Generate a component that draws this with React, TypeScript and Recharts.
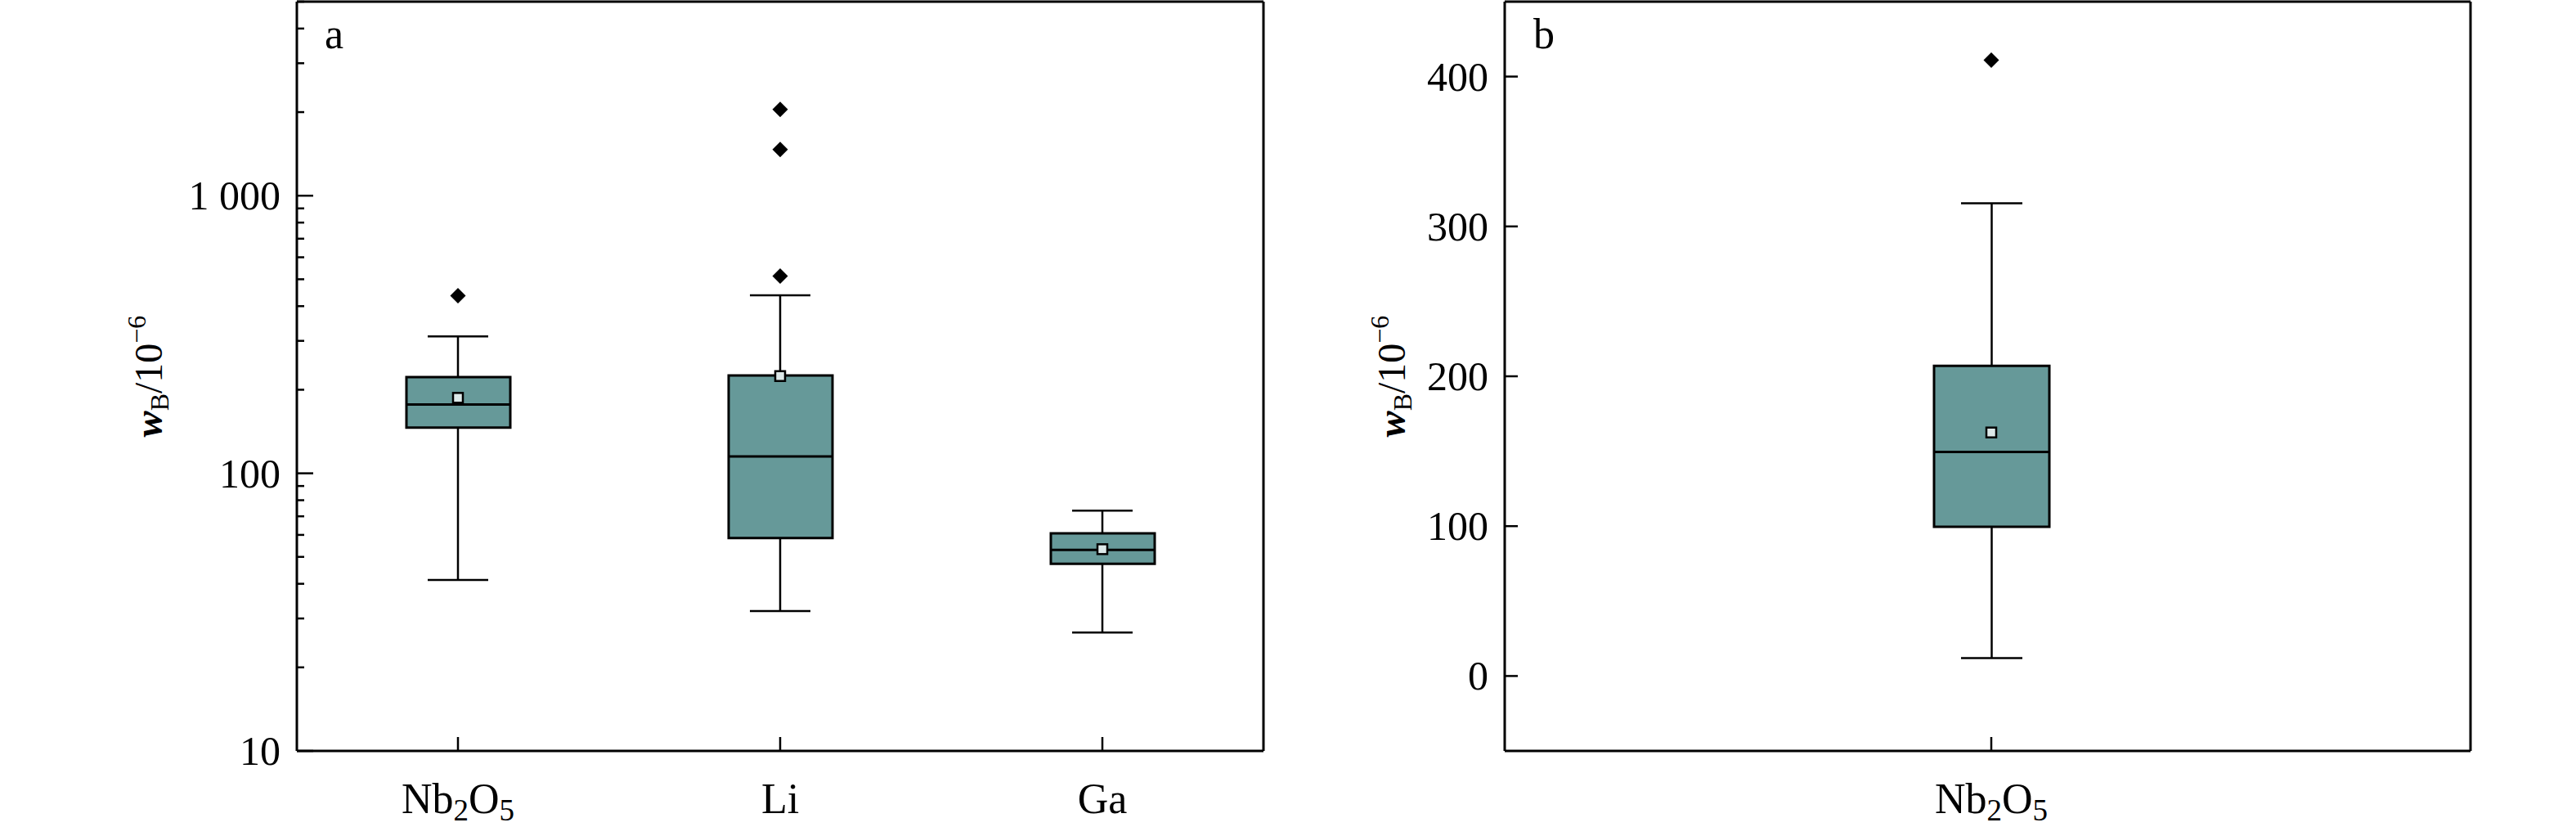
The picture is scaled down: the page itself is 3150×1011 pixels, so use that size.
import React from "react";
import { Bar, ComposedChart, Scatter, XAxis, YAxis } from "recharts";

const FONT = '"Liberation Serif", "Times New Roman", Times, serif';
const BOX_FILL = "#669999";

// panel a (log scale)
const categoriesA = ["Nb2O5", "Li", "Ga"];
const minA = [41.3, 31.9, 26.7];
const q1A = [146, 58.5, 47.2];
const medianA = [177, 115, 53];
const q3A = [222, 225, 60.8];
const maxA = [311, 438, 73.4];
const meanA = [187, 224, 53.3];
const outliersA = [[436], [513, 1468, 2045], []];
const majorTicksA = [10, 100, 1000];
const minorTicksA = [
  20, 30, 40, 50, 60, 70, 80, 90, 200, 300, 400, 500, 600, 700, 800, 900, 2000,
  3000, 4000, 5000,
];

// panel b (linear scale)
const categoriesB = ["Nb2O5"];
const minB = [11.9];
const q1B = [99.6];
const medianB = [149.5];
const q3B = [207];
const maxB = [315.4];
const meanB = [162.5];
const outliersB = [[411]];
const ticksB = [0, 100, 200, 300, 400];

type Row = {
  name: string;
  whisker: [number, number];
  box: [number, number];
  median: number;
  mean: number;
  out1: number | null;
  out2: number | null;
  out3: number | null;
};

function buildRows(
  cats: string[],
  mins: number[],
  q1s: number[],
  meds: number[],
  q3s: number[],
  maxs: number[],
  means: number[],
  outs: number[][]
): Row[] {
  return cats.map((name, i) => ({
    name,
    whisker: [mins[i], maxs[i]],
    box: [q1s[i], q3s[i]],
    median: meds[i],
    mean: means[i],
    out1: outs[i][0] ?? null,
    out2: outs[i][1] ?? null,
    out3: outs[i][2] ?? null,
  }));
}

const rowsA = buildRows(categoriesA, minA, q1A, medianA, q3A, maxA, meanA, outliersA);
const rowsB = buildRows(categoriesB, minB, q1B, medianB, q3B, maxB, meanB, outliersB);

const frameLine = { stroke: "#000", strokeWidth: 3 };
const serif = { fontFamily: FONT };

const formatTick = (v: number) => String(v).replace(/\B(?=(\d{3})+(?!\d))/g, " ");

function WhiskerShape(props: any) {
  const { x, y, width, height } = props;
  const top = Math.min(y, y + height);
  const bottom = Math.max(y, y + height);
  const cx = x + width / 2;
  return (
    <g stroke="#000" strokeWidth={2.5}>
      <line x1={cx} x2={cx} y1={top} y2={bottom} />
      <line x1={x} x2={x + width} y1={top} y2={top} />
      <line x1={x} x2={x + width} y1={bottom} y2={bottom} />
    </g>
  );
}

const medianShape = (half: number) => (props: any) => {
  const { cx, cy } = props;
  if (!Number.isFinite(cx) || !Number.isFinite(cy)) return <g />;
  return <line x1={cx - half} x2={cx + half} y1={cy} y2={cy} stroke="#000" strokeWidth={3} />;
};

function MeanShape(props: any) {
  const { cx, cy } = props;
  if (!Number.isFinite(cx) || !Number.isFinite(cy)) return <g />;
  return <rect x={cx - 6} y={cy - 6} width={12} height={12} fill="#dde9e9" stroke="#000" strokeWidth={2.5} />;
}

function OutlierShape(props: any) {
  const { cx, cy } = props;
  if (!Number.isFinite(cx) || !Number.isFinite(cy)) return <g />;
  const r = 9.5;
  return <polygon points={`${cx},${cy - r} ${cx + r},${cy} ${cx},${cy + r} ${cx - r},${cy}`} fill="#000" />;
}

function CategoryTick(props: any) {
  const { x, y, payload } = props;
  const parts = String(payload.value).split(/(\d+)/).filter(Boolean);
  let shift = 0;
  return (
    <g>
      <line x1={x} x2={x} y1={y} y2={y - 17} stroke="#000" strokeWidth={2.5} />
      <text x={x} y={y + 76} textAnchor="middle" style={serif} fontSize={52} fill="#000">
        {parts.map((p, i) => {
          const sub = /^\d+$/.test(p);
          const dy = (sub ? 9 : 0) - shift;
          shift = sub ? 9 : 0;
          return (
            <tspan key={i} dy={dy} fontSize={sub ? 37 : 52}>
              {p}
            </tspan>
          );
        })}
      </text>
    </g>
  );
}

const valueTick = (majors: number[], majorLen: number, minorLen: number) => (props: any) => {
  const { x, y, payload } = props;
  const v = payload.value as number;
  const major = majors.includes(v);
  return (
    <g>
      <line x1={x} x2={x + (major ? majorLen : minorLen)} y1={y} y2={y} stroke="#000" strokeWidth={2.5} />
      {major && (
        <text x={x - 20} y={y} dy={17} textAnchor="end" style={serif} fontSize={50} fill="#000">
          {formatTick(v)}
        </text>
      )}
    </g>
  );
};

function YTitle({ px, py }: { px: number; py: number }) {
  return (
    <text
      transform={`translate(${px},${py}) rotate(-90)`}
      textAnchor="middle"
      style={serif}
      fontSize={48}
      fill="#000"
    >
      <tspan fontWeight="bold" fontStyle="italic">w</tspan>
      <tspan fontSize={32} dy={8}>B</tspan>
      <tspan dy={-8}>/10</tspan>
      <tspan fontSize={32} dy={-20}>−6</tspan>
    </text>
  );
}

function PanelLetter({ px, py, letter }: { px: number; py: number; letter: string }) {
  return (
    <text x={px} y={py} style={serif} fontSize={52} fill="#000">
      {letter}
    </text>
  );
}

type PanelProps = {
  rows: Row[];
  width: number;
  right: number;
  yWidth: number;
  yScale: "log" | "linear";
  domain: [number, number];
  ticks: number[];
  tick: (p: any) => React.ReactElement;
  boxWidth: number;
  capWidth: number;
  padLeft: number;
  titleX: number;
  letter: string;
  letterX: number;
};

function BoxPanel(p: PanelProps) {
  const pad = { left: p.padLeft, right: 0 };
  return (
    <ComposedChart width={p.width} height={1011} data={p.rows} margin={{ top: 1, right: p.right - 1, left: 0, bottom: 0 }}>
      <XAxis
        dataKey="name"
        height={93}
        padding={pad}
        axisLine={frameLine}
        tickLine={false}
        tickSize={0}
        tickMargin={0}
        tick={<CategoryTick />}
        interval={0}
      />
      <XAxis xAxisId="box" dataKey="name" padding={pad} hide />
      <XAxis
        xAxisId="top"
        dataKey="name"
        orientation="top"
        height={1}
        padding={pad}
        axisLine={frameLine}
        tick={false}
        tickLine={false}
        label={<PanelLetter px={p.letterX} py={59} letter={p.letter} />}
      />
      <YAxis
        type="number"
        scale={p.yScale}
        domain={p.domain}
        allowDataOverflow
        ticks={p.ticks}
        interval={0}
        width={p.yWidth}
        axisLine={frameLine}
        tickLine={false}
        tickSize={0}
        tickMargin={0}
        tick={p.tick}
        label={<YTitle px={p.titleX} py={460} />}
      />
      <YAxis yAxisId="right" orientation="right" width={1} tick={false} tickLine={false} axisLine={frameLine} />
      <Bar dataKey="whisker" barSize={p.capWidth} shape={<WhiskerShape />} isAnimationActive={false} />
      <Bar
        xAxisId="box"
        dataKey="box"
        barSize={p.boxWidth}
        fill={BOX_FILL}
        stroke="#000"
        strokeWidth={3}
        isAnimationActive={false}
      />
      <Scatter dataKey="median" shape={medianShape(p.boxWidth / 2)} isAnimationActive={false} />
      <Scatter dataKey="mean" shape={MeanShape} isAnimationActive={false} />
      <Scatter dataKey="out1" shape={OutlierShape} isAnimationActive={false} />
      <Scatter dataKey="out2" shape={OutlierShape} isAnimationActive={false} />
      <Scatter dataKey="out3" shape={OutlierShape} isAnimationActive={false} />
    </ComposedChart>
  );
}

export default function App() {
  return (
    <div style={{ position: "absolute", left: 0, top: 0, width: 3150, height: 1011, background: "#fff" }}>
      <div style={{ position: "absolute", left: 0, top: 0 }}>
        <BoxPanel
          rows={rowsA}
          width={1600}
          right={55}
          yWidth={363}
          yScale="log"
          domain={[10, 5000]}
          ticks={[...majorTicksA, ...minorTicksA].sort((a, b) => a - b)}
          tick={valueTick(majorTicksA, 20, 9)}
          boxWidth={127}
          capWidth={74}
          padLeft={0}
          titleX={198}
          letter="a"
          letterX={397}
        />
      </div>
      <div style={{ position: "absolute", left: 1600, top: 0 }}>
        <BoxPanel
          rows={rowsB}
          width={1550}
          right={129}
          yWidth={240}
          yScale="linear"
          domain={[-50, 450]}
          ticks={ticksB}
          tick={valueTick(ticksB, 16, 16)}
          boxWidth={141}
          capWidth={75}
          padLeft={9}
          titleX={118}
          letter="b"
          letterX={275}
        />
      </div>
    </div>
  );
}
